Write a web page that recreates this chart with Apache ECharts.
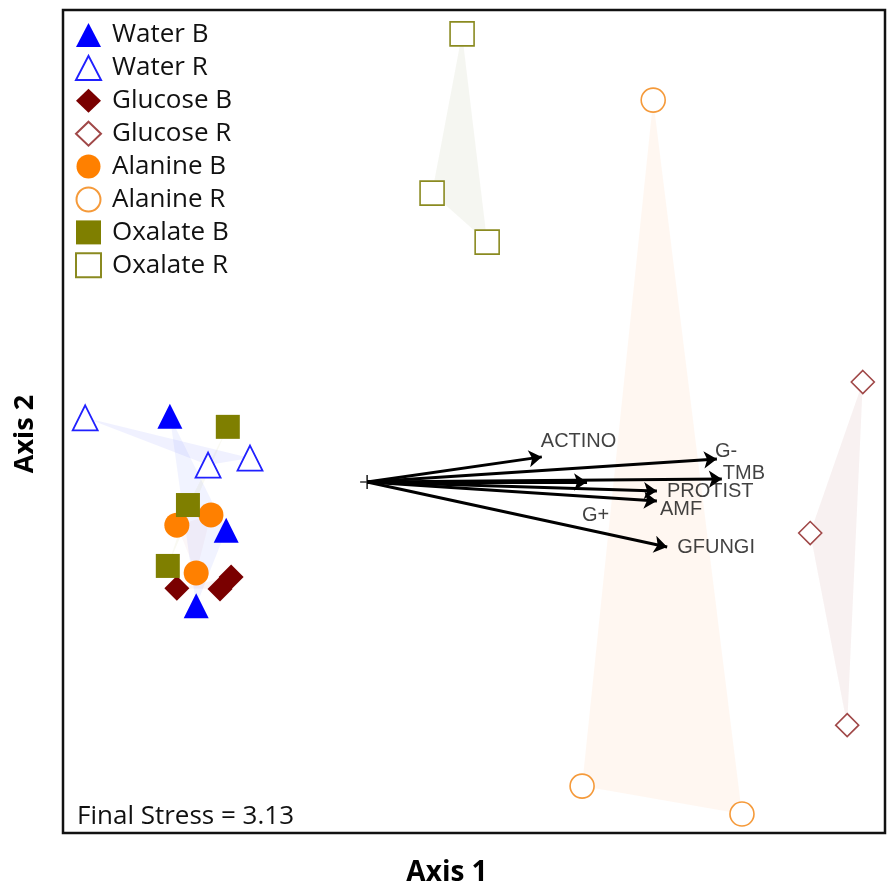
<!DOCTYPE html>
<html>
<head>
<meta charset="utf-8">
<script src="https://cdn.jsdelivr.net/npm/echarts@6/dist/echarts.min.js"></script>
<style>html,body{margin:0;padding:0;background:#fff}#c{width:888px;height:886px}</style>
</head>
<body>
<div id="c"></div>
<script>
// ---- data (NMDS scores) ----
const groupNames = ['Water B','Water R','Glucose B','Glucose R','Alanine B','Alanine R','Oxalate B','Oxalate R'];
const waterB   = [[-0.740, 0.013],[-0.603,-0.264],[-0.676,-0.448]];
const waterR   = [[-0.946, 0.009],[-0.647,-0.106],[-0.545,-0.089]];
const glucoseB = [[-0.723,-0.405],[-0.618,-0.407],[-0.591,-0.378]];
const glucoseR = [[ 0.946, 0.096],[ 0.818,-0.271],[ 0.908,-0.738]];
const alanineB = [[-0.723,-0.252],[-0.640,-0.227],[-0.676,-0.368]];
const alanineR = [[ 0.436, 0.781],[ 0.263,-0.886],[ 0.652,-0.954]];
const oxalateB = [[-0.599,-0.013],[-0.696,-0.203],[-0.745,-0.351]];
const oxalateR = [[-0.029, 0.942],[-0.102, 0.555],[ 0.032, 0.436]];
const vectorNames  = ['ACTINO','G-','TMB','G+','PROTIST','AMF','GFUNGI'];
const vectorOrigin = [-0.260,-0.147];
const vectorEnds   = [[0.165,-0.086],[0.591,-0.091],[0.603,-0.140],[0.275,-0.147],[0.445,-0.169],[0.445,-0.193],[0.470,-0.305]];
const finalStress  = 3.13;
const axisTitles   = ['Axis 1','Axis 2'];

// ---- styles ----
const groupData = [waterB, waterR, glucoseB, glucoseR, alanineB, alanineR, oxalateB, oxalateR];
const groupStyle = [
  {symbol:'triangle', size:25, item:{color:'#0000ff'}, hull:'rgba(60,80,255,0.07)'},
  {symbol:'triangle', size:25, item:{color:'#ffffff', borderColor:'#2020ff', borderWidth:1.8}, hull:'rgba(60,80,255,0.08)'},
  {symbol:'diamond',  size:25, item:{color:'#7a0000'}, hull:'rgba(160,40,60,0.05)'},
  {symbol:'diamond',  size:23, item:{color:'#ffffff', borderColor:'#a04848', borderWidth:1.6}, hull:'rgba(150,60,60,0.07)'},
  {symbol:'circle',   size:25, item:{color:'#ff8000'}, hull:'rgba(200,120,140,0.06)'},
  {symbol:'circle',   size:24, item:{color:'#ffffff', borderColor:'#f59a3a', borderWidth:1.6}, hull:'rgba(255,140,50,0.07)'},
  {symbol:'rect',     size:24, item:{color:'#7f7f00'}, hull:'rgba(128,128,0,0.05)'},
  {symbol:'rect',     size:24, item:{color:'#ffffff', borderColor:'#8a8a20', borderWidth:1.6}, hull:'rgba(110,130,60,0.07)'}
];
const labelOffsets = {'ACTINO':[-1,-15],'G-':[-2,-7],'TMB':[1,-6],'G+':[-5,33],'PROTIST':[10,0],'AMF':[3,9],'GFUNGI':[10,0]};

const chart = echarts.init(document.getElementById('c'), null, {renderer:'canvas'});

const series = [];
groupNames.forEach((name, i) => {
  const pts = groupData[i];
  series.push({
    type:'custom', name:'hull-'+name, silent:true, z:1,
    data:[pts[0]],
    renderItem:(params, api) => ({
      type:'polygon',
      shape:{points: pts.map(p => api.coord(p))},
      style:{fill: groupStyle[i].hull, stroke:'none'}
    })
  });
});
series.push({
  type:'lines', coordinateSystem:'cartesian2d', silent:true, z:3,
  symbol:['none','arrow'], symbolSize:[0,13],
  lineStyle:{color:'#000', width:3, opacity:1},
  data: vectorEnds.map(e => ({coords:[vectorOrigin, e]}))
});
series.push({
  type:'scatter', silent:true, z:4, name:'origin',
  symbol:'path://M0,4.4h10v1.2h-10zM4.4,0h1.2v10h-1.2z', symbolSize:14,
  itemStyle:{color:'#000'},
  data:[vectorOrigin]
});
series.push({
  type:'scatter', silent:true, z:5, name:'vector-labels', symbolSize:0,
  data: vectorEnds.map((e, k) => ({
    value:e, name:vectorNames[k],
    label:{show:true, formatter:vectorNames[k], position:labelOffsets[vectorNames[k]],
           align:'left', verticalAlign:'middle', color:'#111', fontFamily:'Liberation Sans, Arial', fontSize:20}
  }))
});
groupNames.forEach((name, i) => {
  const st = groupStyle[i];
  series.push({
    type:'scatter', name:name, z:6,
    symbol:st.symbol, symbolSize:st.size,
    itemStyle:Object.assign({opacity:1}, st.item),
    data:groupData[i]
  });
});

chart.setOption({
  animation:false,
  backgroundColor:'#fff',
  grid:{left:63, top:10, right:3, bottom:53, show:true, borderColor:'#111', borderWidth:2.5, backgroundColor:'transparent'},
  xAxis:{type:'value', min:-1, max:1,
    axisLine:{show:false}, axisTick:{show:false}, axisLabel:{show:false}, splitLine:{show:false}},
  yAxis:{type:'value', min:-1, max:1,
    axisLine:{show:false}, axisTick:{show:false}, axisLabel:{show:false}, splitLine:{show:false}},
  legend:{
    data:groupNames, orient:'vertical', left:70, top:17,
    itemWidth:25, itemHeight:24, itemGap:6.9,
    textStyle:{fontFamily:'Open Sans', fontSize:26, color:'#111', lineHeight:26, padding:[0,0,0,6]},
    selectedMode:false
  },
  graphic:[
    {type:'text', x:77, y:817,
     style:{text:'Final Stress = ' + finalStress.toFixed(2), font:'26px "Open Sans"', fill:'#111', textVerticalAlign:'middle'}},
    {type:'text', x:447, y:873,
     style:{text:axisTitles[0], font:'bold 28px "Open Sans"', fill:'#000', textAlign:'center', textVerticalAlign:'middle'}},
    {type:'text', x:25, y:434, rotation:Math.PI/2,
     style:{text:axisTitles[1], font:'bold 27px "Open Sans"', fill:'#000', textAlign:'center', textVerticalAlign:'middle'}}
  ],
  series:series
});
</script>
</body>
</html>
